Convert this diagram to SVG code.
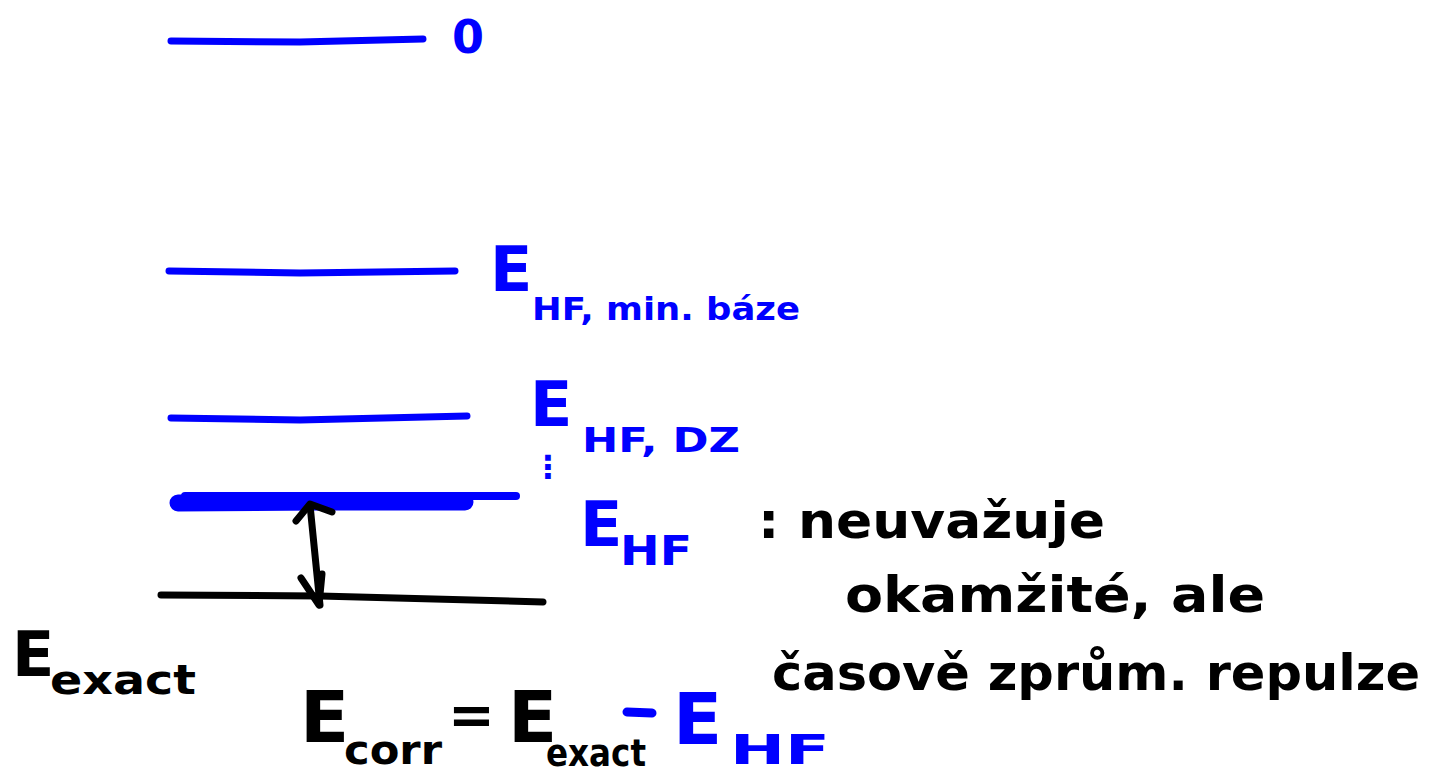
<svg xmlns="http://www.w3.org/2000/svg" width="1431" height="783" viewBox="0 0 1431 783">
<style>
.b{fill:#0000ff;font-family:"DejaVu Sans",sans-serif;font-weight:bold}
.k{fill:#000;font-family:"DejaVu Sans",sans-serif;font-weight:bold}
.lb{stroke:#0000ff;fill:none;stroke-linecap:round}
.lk{stroke:#000;fill:none;stroke-linecap:round;stroke-linejoin:round}
</style>
<rect width="1431" height="783" fill="#fff"/>
<g id="level-zero">
<path class="lb" stroke-width="7" d="M171 41 L300 42 L423 39"/>
<text class="b" x="452" y="53" font-size="46">0</text>
</g>
<g id="level-hf-min">
<path class="lb" stroke-width="7" d="M169 271 L300 273 L455 271"/>
<text class="b" x="490" y="291" font-size="62">E</text>
<text class="b" x="532" y="320" font-size="32" textLength="268" lengthAdjust="spacingAndGlyphs">HF, min. báze</text>
</g>
<g id="level-hf-dz">
<path class="lb" stroke-width="7" d="M171 418 L300 420 L467 416"/>
<text class="b" x="530" y="426" font-size="62">E</text>
<text class="b" x="582" y="452" font-size="34" textLength="158" lengthAdjust="spacingAndGlyphs">HF, DZ</text>
<text class="b" x="532" y="478" font-size="32">⋮</text>
</g>
<g id="level-hf">
<path class="lb" stroke-width="17" d="M178 503 L320 502 L465 502"/>
<path class="lb" stroke-width="8" d="M185 496 L400 496 L516 496"/>
<text class="b" x="580" y="546" font-size="62">E</text>
<text class="b" x="620" y="565" font-size="40" textLength="72" lengthAdjust="spacingAndGlyphs">HF</text>
</g>
<g id="level-exact">
<path class="lk" stroke-width="7" d="M161 595 L320 596 L543 602"/>
<text class="k" x="12" y="676" font-size="62">E</text>
<text class="k" x="50" y="694" font-size="40" textLength="146" lengthAdjust="spacingAndGlyphs">exact</text>
</g>
<g id="connectors">
<path class="lk" stroke-width="7" d="M310 505 L320 605"/>
<path class="lk" stroke-width="7" d="M296 521 L310 504 L332 512"/>
<path class="lk" stroke-width="7" d="M301 578 L319 605 L322 574"/>
</g>
<g id="note">
<text class="k" x="758" y="538" font-size="50" textLength="347" lengthAdjust="spacingAndGlyphs">: neuvažuje</text>
<text class="k" x="845" y="612" font-size="50" textLength="420" lengthAdjust="spacingAndGlyphs">okamžité, ale</text>
<text class="k" x="772" y="690" font-size="50" textLength="648" lengthAdjust="spacingAndGlyphs">časově zprům. repulze</text>
</g>
<g id="formula">
<text class="k" x="300" y="742" font-size="72">E</text>
<text class="k" x="344" y="764" font-size="40" textLength="98" lengthAdjust="spacingAndGlyphs">corr</text>
<text class="k" x="448" y="734" font-size="56">=</text>
<text class="k" x="508" y="742" font-size="72">E</text>
<text class="k" x="546" y="766" font-size="38" textLength="100" lengthAdjust="spacingAndGlyphs">exact</text>
<path class="lb" stroke-width="9" d="M627 712 L652 713"/>
<text class="b" x="673" y="744" font-size="72">E</text>
<text class="b" x="730" y="764" font-size="40" textLength="100" lengthAdjust="spacingAndGlyphs">HF</text>
</g>
</svg>
